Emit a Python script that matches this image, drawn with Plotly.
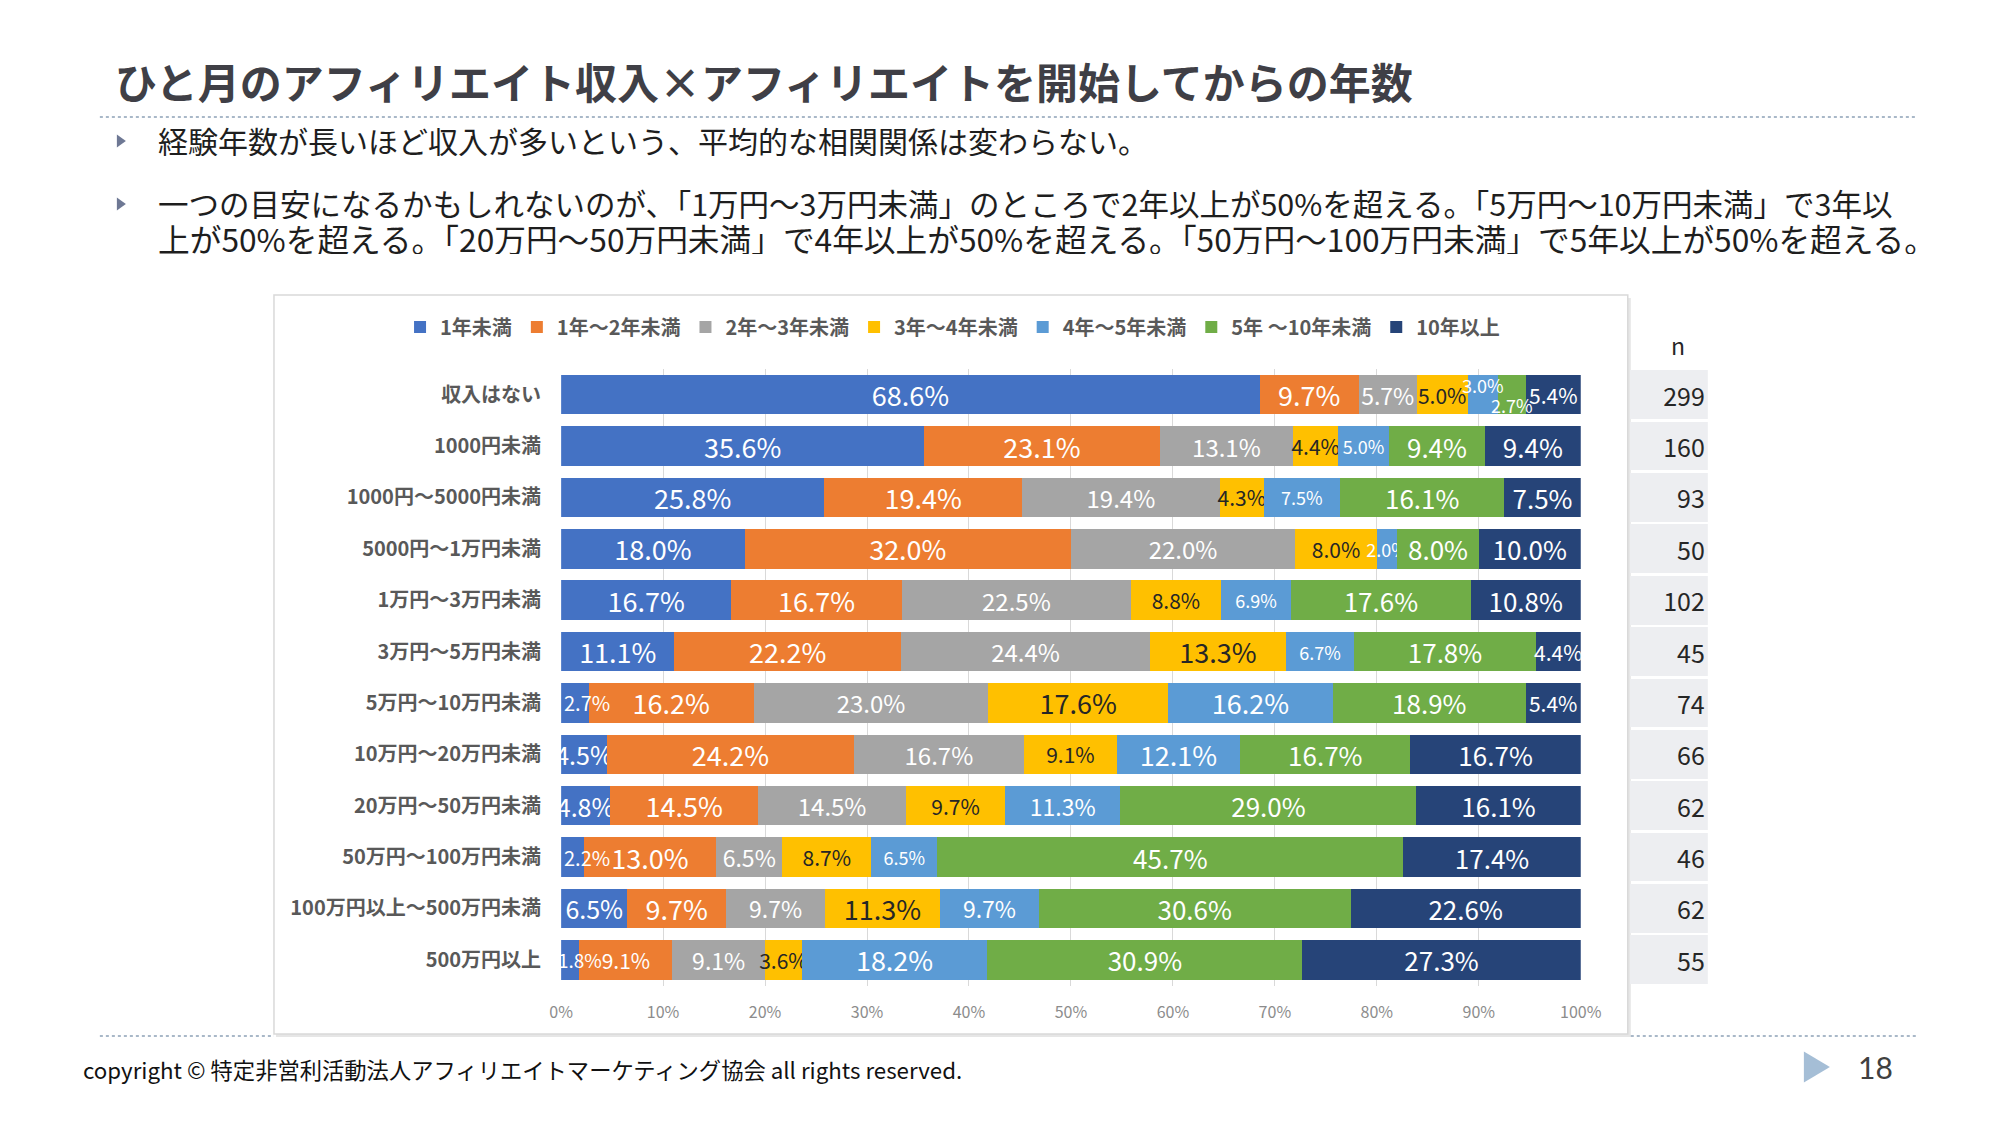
import plotly.graph_objects as go

W, H = 1998, 1123

# ---------------- data ----------------
categories = ["収入はない", "1000円未満", "1000円～5000円未満", "5000円～1万円未満",
              "1万円～3万円未満", "3万円～5万円未満", "5万円～10万円未満",
              "10万円～20万円未満", "20万円～50万円未満", "50万円～100万円未満",
              "100万円以上～500万円未満", "500万円以上"]
series_names = ["1年未満", "1年～2年未満", "2年～3年未満", "3年～4年未満",
                "4年～5年未満", "5年 ～10年未満", "10年以上"]
y_lt1 = [68.6, 35.6, 25.8, 18.0, 16.7, 11.1, 2.7, 4.5, 4.8, 2.2, 6.5, 1.8]
y_1_2 = [9.7, 23.1, 19.4, 32.0, 16.7, 22.2, 16.2, 24.2, 14.5, 13.0, 9.7, 9.1]
y_2_3 = [5.7, 13.1, 19.4, 22.0, 22.5, 24.4, 23.0, 16.7, 14.5, 6.5, 9.7, 9.1]
y_3_4 = [5.0, 4.4, 4.3, 8.0, 8.8, 13.3, 17.6, 9.1, 9.7, 8.7, 11.3, 3.6]
y_4_5 = [3.0, 5.0, 7.5, 2.0, 6.9, 6.7, 16.2, 12.1, 11.3, 6.5, 9.7, 18.2]
y_5_10 = [2.7, 9.4, 16.1, 8.0, 17.6, 17.8, 18.9, 16.7, 29.0, 45.7, 30.6, 30.9]
y_10p = [5.4, 9.4, 7.5, 10.0, 10.8, 4.4, 5.4, 16.7, 16.1, 17.4, 22.6, 27.3]
n_values = [299, 160, 93, 50, 102, 45, 74, 66, 62, 46, 62, 55]
x_ticks = [0, 10, 20, 30, 40, 50, 60, 70, 80, 90, 100]

title_text = "ひと月のアフィリエイト収入×アフィリエイトを開始してからの年数"
bullet_1 = "経験年数が長いほど収入が多いという、平均的な相関関係は変わらない。"
bullet_2a = "一つの目安になるかもしれないのが、「1万円～3万円未満」のところで2年以上が50%を超える。「5万円～10万円未満」で3年以"
bullet_2b = "上が50%を超える。「20万円～50万円未満」で4年以上が50%を超える。「50万円～100万円未満」で5年以上が50%を超える。"
footer_text = "copyright © 特定非営利活動法人アフィリエイトマーケティング協会 all rights reserved."
page_no = "18"

# ---------------- style ----------------
FONT = "Noto Sans CJK JP"
colors = ["#4472C4", "#ED7D31", "#A5A5A5", "#FFC000", "#5B9BD5", "#70AD47", "#264478"]
label_colors = ["white", "white", "white", "#262626", "white", "white", "white"]


def label_size(si, v):
    if si == 0:
        return 27 if v >= 10 else (25 if v >= 4 else 20)
    if si == 1:
        return 27 if v >= 9.5 else 21
    if si == 2:
        return 24 if v >= 10 else 23
    if si == 3:
        return 27 if v >= 11 else 21
    if si == 4:
        return 27 if v >= 12 else (23 if v >= 9 else 18)
    if si == 5:
        return 26
    return 26 if v >= 7 else 21


# labels that the original moves off-centre: (row, series) -> vertical pixel shift
staggered = {(0, 4): 10, (0, 5): -10}
# narrow first segments whose label starts at the bar base in the original
BASE_LABEL_MAX = 3.0

# horizontal page mapping (layout pixels -> paper)
SX, OX = 1.0174, -12.4


def px(x):
    return (SX * x + OX) / W


def py(y):
    return 1 - y / H


all_series = [y_lt1, y_1_2, y_2_3, y_3_4, y_4_5, y_5_10, y_10p]

fig = go.Figure()
for si, (name, vals) in enumerate(zip(series_names, all_series)):
    texts = []
    for ri, v in enumerate(vals):
        hidden = (ri, si) in staggered or (si == 0 and v < BASE_LABEL_MAX)
        texts.append("" if hidden else f"{v:.1f}%")
    fig.add_trace(go.Bar(
        name=name, y=categories, x=vals, orientation="h",
        marker=dict(color=colors[si], line=dict(width=0)),
        width=0.77,
        text=texts, textposition="inside", insidetextanchor="middle",
        textangle=0, constraintext="none",
        insidetextfont=dict(family=FONT, color=label_colors[si],
                            size=[label_size(si, v) for v in vals]),
        hoverinfo="skip",
    ))

# n column (table cells)
fig.add_trace(go.Bar(
    y=categories, x=[1] * len(n_values), orientation="h", xaxis="x2", yaxis="y",
    marker=dict(color="#EDEEF1", line=dict(width=0)), width=0.95,
    text=[str(n) for n in n_values], textposition="inside", insidetextanchor="end",
    textangle=0, constraintext="none",
    insidetextfont=dict(family=FONT, color="#262626", size=25),
    showlegend=False, hoverinfo="skip",
))

annotations = []
# staggered labels, positioned from the (normalised) stacked data
for (ri, si), shift in staggered.items():
    row = [s[ri] for s in all_series]
    total = sum(row)
    start = sum(row[:si]) / total * 100
    mid = start + row[si] / total * 100 / 2
    annotations.append(dict(
        x=mid, y=categories[ri], xref="x", yref="y", yshift=shift,
        text=f"{row[si]:.1f}%", showarrow=False,
        font=dict(family=FONT, size=18, color="white")))
# base-anchored labels for very narrow first segments
for ri, v in enumerate(y_lt1):
    if v < BASE_LABEL_MAX:
        annotations.append(dict(
            x=0, y=categories[ri], xref="x", yref="y", xanchor="left",
            xshift=1 if v >= 2 else -5,
            text=f"{v:.1f}%", showarrow=False,
            font=dict(family=FONT, size=20 if v >= 2 else 19, color="white")))

annotations += [
    dict(x=px(113), y=py(81), xref="paper", yref="paper", xanchor="left", yanchor="middle",
         text=title_text, showarrow=False,
         font=dict(family=FONT, size=42, color="#3F3F46", weight="bold")),
    dict(x=px(156), y=py(140), xref="paper", yref="paper", xanchor="left", yanchor="middle",
         height=32, text=bullet_1, showarrow=False,
         font=dict(family=FONT, size=30, color="#1E1E1E")),
    dict(x=px(156), y=py(203), xref="paper", yref="paper", xanchor="left", yanchor="middle",
         height=32, text=bullet_2a, showarrow=False,
         font=dict(family=FONT, size=30.5, color="#1E1E1E")),
    dict(x=px(156), y=py(238), xref="paper", yref="paper", xanchor="left", yanchor="middle",
         height=32, text=bullet_2b, showarrow=False,
         font=dict(family=FONT, size=31.7, color="#1E1E1E")),
    dict(x=px(1677), y=py(345), xref="paper", yref="paper", xanchor="center", yanchor="middle",
         text="n", showarrow=False, font=dict(family=FONT, size=23, color="#262626")),
    dict(x=px(81), y=py(1069), xref="paper", yref="paper", xanchor="left", yanchor="middle",
         text=footer_text, showarrow=False, font=dict(family=FONT, size=22.3, color="#111111")),
    dict(x=px(1855), y=py(1067), xref="paper", yref="paper", xanchor="left", yanchor="middle",
         text=page_no, showarrow=False, font=dict(family="Lato", size=30, color="#404040")),
]


def tri(x0, x1, yc, h):
    return (f"M {px(x0)} {py(yc - h / 2)} L {px(x1)} {py(yc)} "
            f"L {px(x0)} {py(yc + h / 2)} Z")


shapes = [
    # chart box shadow + box
    dict(type="rect", xref="paper", yref="paper", x0=px(276), x1=px(1630),
         y0=py(298), y1=py(1037), line=dict(width=0), fillcolor="#E6E6E6", layer="below"),
    dict(type="rect", xref="paper", yref="paper", x0=px(274), x1=px(1627),
         y0=py(295), y1=py(1034), line=dict(color="#D9D9D9", width=1.5),
         fillcolor="white", layer="below"),
    # dotted separators
    dict(type="line", xref="paper", yref="paper", x0=px(100), x1=px(1916),
         y0=py(117), y1=py(117), line=dict(color="#A9B8C8", width=2, dash="dot")),
    dict(type="line", xref="paper", yref="paper", x0=px(100), x1=px(274),
         y0=py(1036), y1=py(1036), line=dict(color="#A9B8C8", width=2, dash="dot")),
    dict(type="line", xref="paper", yref="paper", x0=px(1630), x1=px(1916),
         y0=py(1036), y1=py(1036), line=dict(color="#A9B8C8", width=2, dash="dot")),
    # bullets
    dict(type="path", xref="paper", yref="paper", path=tri(117, 126, 141, 13),
         fillcolor="#6E7894", line=dict(width=0)),
    dict(type="path", xref="paper", yref="paper", path=tri(117, 126, 204, 13),
         fillcolor="#6E7894", line=dict(width=0)),
    # page marker
    dict(type="path", xref="paper", yref="paper", path=tri(1803, 1829, 1067, 31),
         fillcolor="#A5BED6", line=dict(width=0)),
]

fig.update_layout(
    width=W, height=H,
    margin=dict(l=0, r=0, t=0, b=0),
    paper_bgcolor="white", plot_bgcolor="rgba(0,0,0,0)",
    barmode="stack", barnorm="percent",
    showlegend=True,
    legend=dict(orientation="h", x=px(400), y=py(327), xanchor="left", yanchor="middle",
                font=dict(family=FONT, size=20, color="#595959", weight="bold"),
                bgcolor="rgba(0,0,0,0)", itemclick=False, itemdoubleclick=False,
                traceorder="normal"),
    xaxis=dict(domain=[px(561), px(1580)], range=[0, 100], tickvals=x_ticks,
               ticktext=[f"{t}%" for t in x_ticks], showgrid=True, gridcolor="#D9D9D9",
               gridwidth=1, zeroline=False, showline=False, ticks="",
               ticklabelstandoff=15,
               tickfont=dict(family=FONT, size=16, color="#8C8C8C"), fixedrange=True),
    xaxis2=dict(domain=[px(1629), px(1707)], range=[0, 100], anchor="y",
                visible=False, fixedrange=True),
    yaxis=dict(domain=[py(985.5), py(369)], type="category", categoryorder="array",
               categoryarray=categories, range=[11.5, -0.5], showgrid=False,
               zeroline=False, showline=False, ticks="", ticklabelstandoff=19,
               tickfont=dict(family=FONT, size=20, color="#595959", weight="bold"),
               fixedrange=True),
    annotations=annotations,
    shapes=shapes,
    uniformtext=dict(mode=False),
)

fig.write_html(
    "out.html",
    config={"displayModeBar": False},
    post_script="document.body.style.margin='0';document.body.style.overflow='hidden';",
)
